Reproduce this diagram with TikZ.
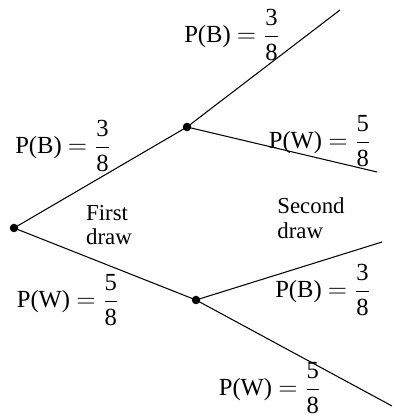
\documentclass[tikz,border=0pt]{standalone}
\usepackage{amsmath}
\usepackage{fontspec}
\setmainfont{Liberation Serif}
\usetikzlibrary{positioning}
\tikzset{
  dot/.style={circle, fill=black, minimum size=1.7mm, inner sep=0pt},
  branch/.style={line width=0.6pt},
  prob/.style={inner sep=0pt, font=\fontsize{14}{16}\selectfont},
  stage/.style={inner sep=0pt, align=left, font=\fontsize{13}{14}\selectfont}
}
\newcommand{\pr}[2]{P(#1) $=\dfrac{\text{#2}}{\text{8}}$}

\begin{document}
\begin{tikzpicture}
\useasboundingbox (0,0) rectangle (7.88,8.32);
\node[dot] (root) at (0.28,3.76) {};
\node[dot] (b) at (3.74,5.78) {};
\node[dot] (w) at (3.92,2.32) {};
\coordinate (bb) at (6.80,8.12);
\coordinate (bw) at (7.54,4.88);
\coordinate (wb) at (7.64,3.48);
\coordinate (ww) at (7.84,0.20);
\draw[branch] (root.center) -- (b.center);
\draw[branch] (root.center) -- (w.center);
\draw[branch] (b.center) -- (bb);
\draw[branch] (b.center) -- (bw);
\draw[branch] (w.center) -- (wb);
\draw[branch] (w.center) -- (ww);
% probabilities
\node[prob] (pb) at (1.26,5.40) {\pr{B}{3}};
\node[prob] (pw) at (1.36,2.32) {\pr{W}{5}};
\node[prob] (pbb) at (4.64,7.62) {\pr{B}{3}};
\node[prob] (pbw) at (6.40,5.50) {\pr{W}{5}};
\node[prob] (pwb) at (6.46,2.52) {\pr{B}{3}};
\node[prob] (pww) at (5.40,0.56) {\pr{W}{5}};
% stages
\node[stage] (first) at (2.18,3.82) {First\\draw};
\node[stage] (second) at (6.22,3.96) {Second\\draw};
\end{tikzpicture}
\end{document}
